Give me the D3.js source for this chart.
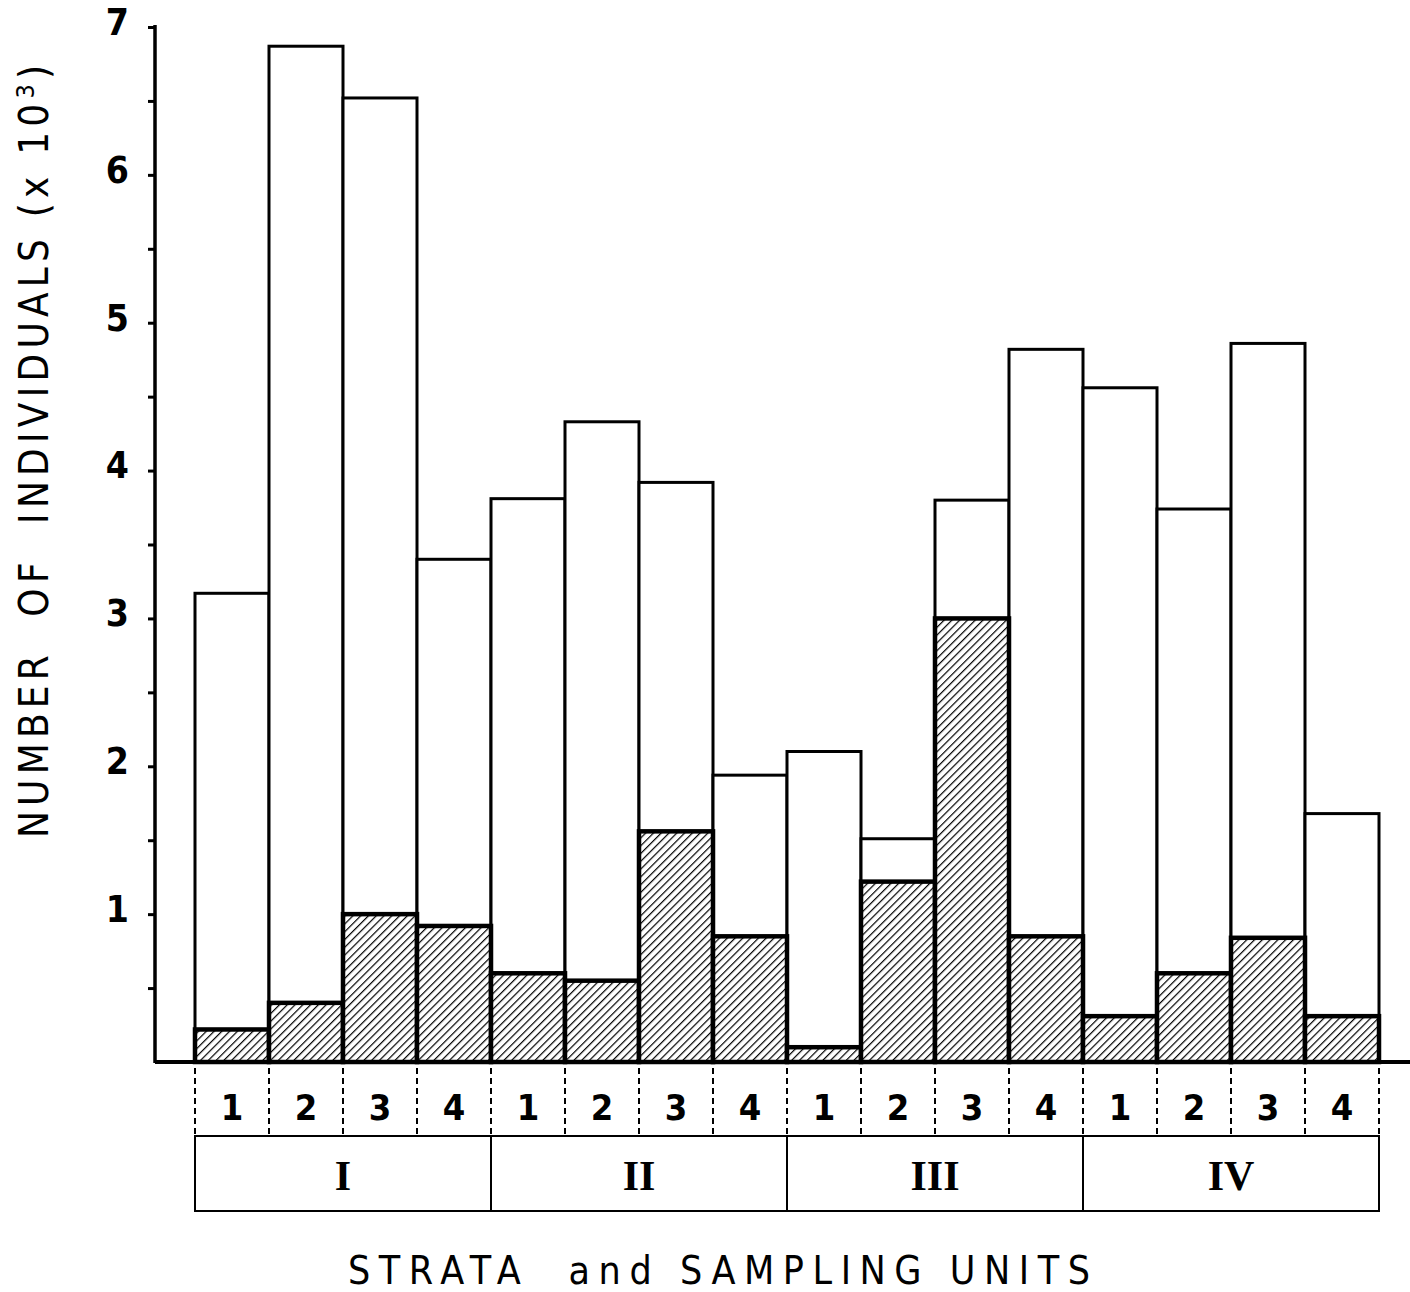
<!DOCTYPE html>
<html>
<head>
<meta charset="utf-8">
<script src="https://cdn.jsdelivr.net/npm/d3@7"></script>
<style>
  body { margin: 0; background: #fff; }
  svg { display: block; }
</style>
</head>
<body>
<div id="chart"></div>
<script>
// values (thousands of individuals)
var strata = ["I", "II", "III", "IV"];
var units = ["1", "2", "3", "4"];
var totals = [3.17, 6.87, 6.52, 3.40, 3.81, 4.33, 3.92, 1.94, 2.10, 1.51, 3.80, 4.82, 4.56, 3.74, 4.86, 1.68];
var hatched = [0.22, 0.40, 1.00, 0.92, 0.60, 0.55, 1.56, 0.85, 0.10, 1.22, 3.00, 0.85, 0.31, 0.60, 0.84, 0.31];
var yTicks = [1, 2, 3, 4, 5, 6, 7];

var w = 1410, h = 1292;
var x0 = 195, x1 = 1379, yBase = 1062, yTop = 25;

var data = totals.map(function(t, i) {
  return { key: strata[Math.floor(i / 4)] + "-" + units[i % 4], stratum: strata[Math.floor(i / 4)], unit: units[i % 4], total: t, hatch: hatched[i] };
});

var x = d3.scaleBand()
  .domain(data.map(function(d) { return d.key; }))
  .range([x0, x1])
  .padding(0);

var xs = d3.scaleBand()
  .domain(strata)
  .range([x0, x1])
  .padding(0);

var y = d3.scaleLinear()
  .domain([0, 7])
  .range([yBase, yTop + 2]);

var svg = d3.select("#chart")
  .append("svg")
  .attr("width", w)
  .attr("height", h);

var defs = svg.append("defs");
var pat = defs.append("pattern")
  .attr("id", "hatch")
  .attr("patternUnits", "userSpaceOnUse")
  .attr("width", 5.5)
  .attr("height", 5.5)
  .attr("patternTransform", "rotate(45)");
pat.append("rect").attr("width", 5.5).attr("height", 5.5).attr("fill", "#fff");
pat.append("line")
  .attr("x1", 0).attr("y1", 0).attr("x2", 0).attr("y2", 5.5)
  .attr("stroke", "#000").attr("stroke-width", 2.4);

// white total bars
svg.selectAll("rect.total")
  .data(data)
  .enter()
  .append("rect")
  .attr("class", "total")
  .attr("x", function(d) { return x(d.key); })
  .attr("y", function(d) { return y(d.total); })
  .attr("width", x.bandwidth())
  .attr("height", function(d) { return yBase - y(d.total); })
  .attr("fill", "#fff")
  .attr("stroke", "#000")
  .attr("stroke-width", 3);

// hatched part
svg.selectAll("rect.hatch")
  .data(data)
  .enter()
  .append("rect")
  .attr("class", "hatch")
  .attr("x", function(d) { return x(d.key); })
  .attr("y", function(d) { return y(d.hatch); })
  .attr("width", x.bandwidth())
  .attr("height", function(d) { return yBase - y(d.hatch); })
  .attr("fill", "url(#hatch)")
  .attr("stroke", "#000")
  .attr("stroke-width", 4.5);

// y axis
var yAxis = d3.axisLeft(y)
  .tickValues(d3.range(0.5, 7.01, 0.5))
  .tickSize(7)
  .tickFormat(function(d) { return yTicks.indexOf(d) >= 0 ? d : ""; });

var ya = svg.append("g")
  .attr("transform", "translate(155,0)")
  .call(yAxis);
ya.select(".domain").remove();
ya.selectAll(".tick line").attr("stroke", "#000").attr("stroke-width", 3);
ya.selectAll(".tick text")
  .attr("x", -26)
  .attr("dy", "0.2em")
  .attr("fill", "#000")
  .style("font-family", "'DejaVu Sans Condensed', 'DejaVu Sans', sans-serif")
  .style("font-weight", "bold")
  .style("font-size", "37px");

svg.append("line")
  .attr("x1", 155).attr("x2", 155)
  .attr("y1", yTop).attr("y2", yBase + 1)
  .attr("stroke", "#000").attr("stroke-width", 3.5);
svg.append("line")
  .attr("x1", 155).attr("x2", 1410)
  .attr("y1", yBase).attr("y2", yBase)
  .attr("stroke", "#000").attr("stroke-width", 4);

// sampling unit row
var rowTop = 1068, rowMid = 1136, rowBot = 1211;
svg.selectAll("line.unitsep")
  .data(d3.range(17))
  .enter()
  .append("line")
  .attr("class", "unitsep")
  .attr("x1", function(i) { return i < 16 ? x(data[i].key) : x1; })
  .attr("x2", function(i) { return i < 16 ? x(data[i].key) : x1; })
  .attr("y1", rowTop).attr("y2", rowMid)
  .attr("stroke", "#000")
  .attr("stroke-width", 2)
  .attr("stroke-dasharray", "6,4");

svg.selectAll("text.unit")
  .data(data)
  .enter()
  .append("text")
  .attr("class", "unit")
  .attr("x", function(d) { return x(d.key) + x.bandwidth() / 2; })
  .attr("y", 1120)
  .attr("text-anchor", "middle")
  .style("font-family", "'DejaVu Sans Condensed', 'DejaVu Sans', sans-serif")
  .style("font-weight", "bold")
  .style("font-size", "36px")
  .text(function(d) { return d.unit; });

// strata row
svg.append("rect")
  .attr("x", x0).attr("y", rowMid)
  .attr("width", x1 - x0).attr("height", rowBot - rowMid)
  .attr("fill", "none").attr("stroke", "#000").attr("stroke-width", 2);

svg.selectAll("line.stsep")
  .data(strata.slice(1))
  .enter()
  .append("line")
  .attr("class", "stsep")
  .attr("x1", function(d) { return xs(d); })
  .attr("x2", function(d) { return xs(d); })
  .attr("y1", rowMid).attr("y2", rowBot)
  .attr("stroke", "#000").attr("stroke-width", 2);

svg.selectAll("text.stratum")
  .data(strata)
  .enter()
  .append("text")
  .attr("class", "stratum")
  .attr("x", function(d) { return xs(d) + xs.bandwidth() / 2; })
  .attr("y", 1190)
  .attr("text-anchor", "middle")
  .style("font-family", "'Liberation Serif', serif")
  .style("font-weight", "bold")
  .style("font-size", "42px")
  .text(function(d) { return d; });

// axis titles
svg.append("text")
  .attr("x", 348)
  .attr("y", 1284)
  .attr("textLength", 742)
  .attr("lengthAdjust", "spacing")
  .style("white-space", "pre")
  .style("font-family", "'DejaVu Sans Condensed', 'DejaVu Sans', sans-serif")
  .style("font-size", "39px")
  .text("STRATA  and SAMPLING UNITS");

var yl = svg.append("text")
  .attr("transform", "translate(48,838) rotate(-90)")
  .attr("textLength", 773)
  .attr("lengthAdjust", "spacing")
  .style("white-space", "pre")
  .style("font-family", "'DejaVu Sans Condensed', 'DejaVu Sans', sans-serif")
  .style("font-size", "40px");
yl.append("tspan").text("NUMBER  OF  INDIVIDUALS (x 10");
yl.append("tspan").attr("dy", -14).style("font-size", "25px").text("3");
yl.append("tspan").attr("dy", 14).text(")");
</script>
</body>
</html>
